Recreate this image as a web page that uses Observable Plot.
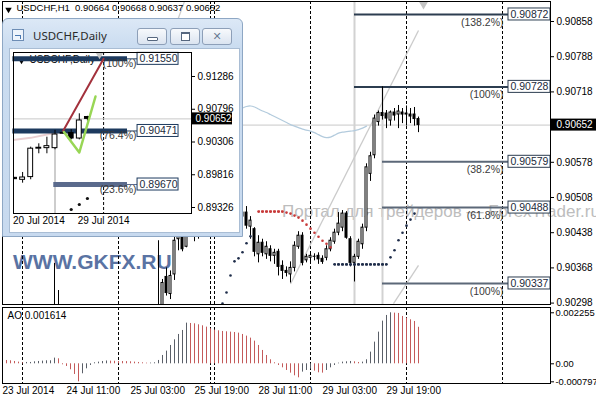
<!DOCTYPE html>
<html><head><meta charset="utf-8">
<script src="https://cdn.jsdelivr.net/npm/d3@7"></script>
<script src="https://cdn.jsdelivr.net/npm/@observablehq/plot@0.6"></script>
<style>
html,body{margin:0;padding:0;background:#fff;}
#wrap{position:relative;width:596px;height:400px;overflow:hidden;background:#fff;font-family:"Liberation Sans",Arial,sans-serif;}
.wm1{position:absolute;left:13px;top:250px;font:bold 21px "Liberation Sans",Arial,sans-serif;color:#5a73a3;white-space:nowrap;z-index:0;line-height:24px;}
.wm2{position:absolute;left:282px;top:202px;font:17px "Liberation Sans",Arial,sans-serif;color:#bdbdbd;white-space:nowrap;z-index:0;line-height:20px;}
#win{position:absolute;left:2px;top:18px;width:241px;height:219px;box-sizing:border-box;border:1px solid #8ea7c4;border-radius:6px 6px 0 0;background:linear-gradient(#dce8f6,#cadcf0 28px,#c8daef);z-index:2;}
#client{position:absolute;left:6px;top:29px;width:231px;height:185px;background:#fff;border:1px solid #a9bdd4;box-sizing:border-box;}
.btn{position:absolute;top:9px;width:30px;height:17px;box-sizing:border-box;border:1px solid #8d9fb8;border-radius:3px;background:linear-gradient(#f7f9fc,#dbe4f0);}
#title{position:absolute;left:30px;top:9px;font:11.5px "Noto Sans","Open Sans",sans-serif;color:#2a2a2a;white-space:nowrap;}
#icon{position:absolute;left:9px;top:10px;width:10px;height:10px;border:1px solid #6d8db5;background:#eef4fb;}
</style></head>
<body><div id="wrap">
<div class="wm1">WWW.GKFX.RU</div>
<div class="wm2">Портал для трейдеров — ForexTrader.ru</div>
<div id="win">
  <div id="icon"><div style="position:absolute;left:2px;top:5px;width:5px;height:3px;border-top:1px solid #4a78b0;border-right:1px solid #4a78b0"></div></div>
  <div id="title">USDCHF,Daily</div>
  <div class="btn" style="left:134px"><div style="position:absolute;left:9px;top:8px;width:9px;height:2px;border:1px solid #56677f;border-radius:1px;background:#fff"></div></div>
  <div class="btn" style="left:167px"><div style="position:absolute;left:10px;top:3px;width:7px;height:6px;border:1px solid #56677f;border-top-width:2px;background:#fff"></div></div>
  <div class="btn" style="left:199px;text-align:center;font:bold 11px 'DejaVu Sans',sans-serif;line-height:15px;color:#6a7b95;text-shadow:0 0 1px #fff">✕</div>
  <div id="client"></div>
</div>
</div>
<script>
// ================= DATA =================
// H1 bars: index 0 = 24 Jul 2014 00:00 (weekend gap removed)
const h1First = -5;
const h1Open = [
0.90215,0.90220,0.90225,0.90218,0.90214,0.90210,0.90216,0.90220,0.90224,0.90236,
0.90242,0.90248,0.90255,0.90268,0.90278,0.90205,0.90185,0.90170,0.90150,0.90145,
0.90172,0.90195,0.90208,0.90218,0.90225,0.90230,0.90238,0.90242,0.90236,0.90230,
0.90222,0.90218,0.90214,0.90210,0.90205,0.90212,0.90225,0.90240,0.90255,0.90272,
0.90288,0.90350,0.90316,0.90355,0.90425,0.90460,0.90410,0.90445,0.90468,0.90440,
0.90462,0.90470,0.90458,0.90462,0.90470,0.90465,0.90455,0.90462,0.90458,0.90466,
0.90470,0.90478,0.90450,0.90445,0.90395,0.90418,0.90395,0.90405,0.90392,0.90400,
0.90372,0.90362,0.90355,0.90368,0.90410,0.90432,0.90383,0.90388,0.90390,0.90392,
0.90386,0.90388,0.90405,0.90420,0.90438,0.90448,0.90476,0.90425,0.90378,0.90390,
0.90415,0.90448,0.90555,0.90592,0.90658,0.90676,0.90675,0.90661,0.90677,0.90673,
0.90677,0.90675,0.90673,0.90673,0.90664];
const h1High = [
0.90228,0.90232,0.90230,0.90226,0.90222,0.90220,0.90225,0.90228,0.90240,0.90248,
0.90255,0.90262,0.90275,0.90377,0.90323,0.90225,0.90200,0.90185,0.90168,0.90180,
0.90200,0.90215,0.90225,0.90232,0.90240,0.90245,0.90250,0.90250,0.90244,0.90238,
0.90232,0.90228,0.90225,0.90222,0.90218,0.90230,0.90245,0.90262,0.90280,0.90422,
0.90345,0.90368,0.90362,0.90445,0.90470,0.90472,0.90458,0.90475,0.90485,0.90470,
0.90480,0.90482,0.90468,0.90478,0.90482,0.90478,0.90470,0.90476,0.90472,0.90480,
0.90485,0.90490,0.90470,0.90448,0.90432,0.90425,0.90420,0.90412,0.90405,0.90405,
0.90382,0.90370,0.90380,0.90420,0.90440,0.90438,0.90395,0.90398,0.90396,0.90398,
0.90392,0.90412,0.90428,0.90445,0.90478,0.90482,0.90480,0.90430,0.90395,0.90425,
0.90455,0.90575,0.90598,0.90672,0.90680,0.90728,0.90681,0.90680,0.90685,0.90691,
0.90685,0.90690,0.90685,0.90687,0.90668];
const h1Low = [
0.90205,0.90210,0.90212,0.90208,0.90205,0.90202,0.90208,0.90212,0.90218,0.90226,
0.90230,0.90238,0.90245,0.90255,0.90190,0.90175,0.90160,0.90140,0.90130,0.90135,
0.90165,0.90185,0.90200,0.90210,0.90215,0.90222,0.90228,0.90230,0.90222,0.90215,
0.90210,0.90205,0.90200,0.90195,0.90190,0.90205,0.90218,0.90232,0.90248,0.90265,
0.90280,0.90312,0.90305,0.90343,0.90402,0.90400,0.90408,0.90432,0.90420,0.90425,
0.90448,0.90450,0.90450,0.90448,0.90455,0.90448,0.90445,0.90450,0.90446,0.90452,
0.90455,0.90445,0.90425,0.90390,0.90378,0.90390,0.90385,0.90380,0.90375,0.90352,
0.90345,0.90350,0.90338,0.90360,0.90405,0.90372,0.90378,0.90378,0.90382,0.90375,
0.90375,0.90382,0.90400,0.90415,0.90432,0.90440,0.90425,0.90370,0.90340,0.90385,
0.90405,0.90440,0.90540,0.90585,0.90650,0.90662,0.90645,0.90650,0.90660,0.90645,
0.90655,0.90650,0.90655,0.90650,0.90637];
const h1Close = [
0.90220,0.90225,0.90218,0.90214,0.90210,0.90216,0.90220,0.90224,0.90236,0.90242,
0.90248,0.90255,0.90268,0.90278,0.90205,0.90185,0.90170,0.90150,0.90145,0.90172,
0.90195,0.90208,0.90218,0.90225,0.90230,0.90238,0.90242,0.90236,0.90230,0.90222,
0.90218,0.90214,0.90210,0.90205,0.90212,0.90225,0.90240,0.90255,0.90272,0.90285,
0.90338,0.90318,0.90352,0.90422,0.90460,0.90405,0.90445,0.90468,0.90440,0.90462,
0.90470,0.90458,0.90462,0.90470,0.90465,0.90455,0.90462,0.90458,0.90466,0.90470,
0.90478,0.90452,0.90462,0.90400,0.90418,0.90398,0.90410,0.90392,0.90398,0.90370,
0.90362,0.90358,0.90368,0.90412,0.90432,0.90378,0.90390,0.90392,0.90390,0.90385,
0.90380,0.90405,0.90422,0.90438,0.90456,0.90476,0.90428,0.90378,0.90390,0.90420,
0.90448,0.90568,0.90590,0.90665,0.90676,0.90670,0.90665,0.90677,0.90671,0.90679,
0.90673,0.90673,0.90669,0.90664,0.90652];
// Awesome Oscillator, same bars
const aoValues = [
0.000152,0.000147,0.000133,0.000103,0.000074,0.000044,0.000059,0.000059,0.000088,0.000103,
0.000118,0.000133,0.000133,0.000251,0.000221,-0.000044,-0.000118,-0.000265,-0.000472,-0.000797,
-0.000442,-0.000221,-0.000074,0.000044,0.000074,0.000103,0.000125,0.000118,0.000112,0.000103,
0.000100,0.000096,0.000088,0.000074,0.000059,0.000044,0.000029,0.000032,0.000044,0.000147,
0.000368,0.000560,0.000811,0.001061,0.001297,0.001474,0.001798,0.001783,0.001769,0.001724,
0.001680,0.001621,0.001548,0.001489,0.001459,0.001430,0.001415,0.001400,0.001385,0.001356,
0.001297,0.001223,0.001135,0.001002,0.000811,0.000590,0.000368,0.000177,0.000044,-0.000074,
-0.000177,-0.000295,-0.000413,-0.000531,-0.000619,-0.000368,-0.000295,-0.000236,-0.000324,-0.000398,
-0.000413,-0.000295,-0.000177,-0.000074,0.000029,0.000074,0.000088,0.000103,0.000088,0.000059,
0.000074,0.000177,0.000516,0.000958,0.001400,0.001887,0.002137,0.002255,0.002240,0.002226,
0.002093,0.002019,0.001946,0.001872,0.001614];
// day separators (bar index) and time-axis labels
const daySepIdx = [0, 24, 47, 48, 72, 96, 120];
const timeTickIdx = [-5, 11, 27, 43, 59, 75, 91];
const timeTickLabels = ["23 Jul 2014","24 Jul 11:00","25 Jul 03:00","25 Jul 19:00","28 Jul 11:00","29 Jul 03:00","29 Jul 19:00"];
const priceTicks = [0.90858,0.90788,0.90718,0.90578,0.90508,0.90438,0.90368,0.90298];
const aoTicks = [0.002255, 0, -0.000797];
// Fibonacci levels on H1
const fibValues = [0.90872, 0.90728, 0.90579, 0.90488, 0.90337];
const fibLabels = ["(138.2%)","(100%)","(38.2%)","(61.8%)","(100%)"];
const fibStartIdx = [83, 83, 90, 90, 90];
const anchorIdx = [83, 90];
const anchorTop = [0.908978, 0.90728];
// trend lines
const trendX1 = [67, 92.75, 38.75];
const trendY1 = [0.90336, 0.90297, 0.90860];
const trendX2 = [99, 99, 40.5];
const trendY2 = [0.90840, 0.90373, 0.90898];
// moving average (light blue)
const maIdx = d3.range(52, 87);
const maVal = [0.90676,0.90680,0.90684,0.90686,0.90689,0.90690,0.90688,0.90684,0.90680,0.90677,
0.90673,0.90669,0.90665,0.90661,0.90657,0.90653,0.90650,0.90647,0.90644,0.90642,
0.90640,0.90637,0.90633,0.90629,0.90627,0.90628,0.90632,0.90636,0.90638,0.90639,
0.90640,0.90641,0.90643,0.90646,0.90650];
// stop dots
const sarIdx1 = d3.range(50, 58);
const sarVal1 = [0.90297,0.90319,0.90353,0.90381,0.90387,0.90399,0.90417,0.90431];
const sarIdx2 = d3.range(59, 78);
const sarVal2 = [0.90480,0.90480,0.90480,0.90480,0.90480,0.90480,0.90480,0.90478,0.90476,0.90472,
0.90468,0.90462,0.90454,0.90446,0.90438,0.90430,0.90422,0.90416,0.90409];
const sarIdx3 = d3.range(78, 99);
const sarVal3 = [0.90375,0.90375,0.90375,0.90375,0.90375,0.90375,0.90375,0.90375,0.90375,0.90375,
0.90375,0.90375,0.90375,0.90375,0.90389,0.90403,0.90423,0.90438,0.90452,0.90464,0.90476];

// Daily inset: k 0 = 20 Jul 2014
const dOpen  = [0.89770,0.89740,0.89781,0.90206,0.90214,0.90214,0.90430,0.90440,0.90358,0.90680];
const dHigh  = [0.89775,0.89850,0.90229,0.90279,0.90378,0.90480,0.90450,0.90490,0.90728,0.90690];
const dLow   = [0.89745,0.89690,0.89741,0.90130,0.90130,0.90190,0.90420,0.90338,0.90338,0.90620];
const dClose = [0.89750,0.89775,0.90206,0.90220,0.90244,0.90418,0.90440,0.90358,0.90628,0.90652];
const dTickIdx = [0, 8];
const dTickLabels = ["20 Jul 2014", "29 Jul 2014"];
const dPriceTicks = [0.91286, 0.90796, 0.90306, 0.89816, 0.89326];
const dFibValues = [0.91550, 0.90471, 0.89670];
const dFibLabels = ["(100%)", "(76.4%)", "(23.6%)"];
const dFibStart = [-0.2, -0.2, 4.85];
const dMonthSep = [11];
const dSarIdx = [7, 8, 9];
const dSarVal = [0.89296, 0.89371, 0.89461];
const dRedK = [6, 11], dRedP = [0.90471, 0.91550];
const dGreenK = [6.1, 8, 10], dGreenP = [0.90455, 0.90149, 0.90987];
const dPinkK = [-0.2, 2, 4, 5.8], dPinkP = [0.90335, 0.90368, 0.90418, 0.90458];

// ================= DRAW =================
const FONT = '"Liberation Sans", Arial, sans-serif';
const wrap = document.getElementById("wrap");
const f5 = d => d.toFixed(5);
function put(node, left, top, z) {
  node.style.position = "absolute"; node.style.left = left + "px"; node.style.top = top + "px";
  node.style.zIndex = z; wrap.appendChild(node);
}
const baseStyle = {background: "transparent", fontFamily: FONT, fontSize: "10px", color: "#000", overflow: "visible"};

// ---- main H1 chart ----
const xDom = [-5, 132];
const yDom = [0.902952, 0.908978];
const mainH = 305;
const pricePx = (mainH - 2) / (yDom[1] - yDom[0]);
const barPx = (596 - 48) / (xDom[1] - xDom[0]);
const boxHalf = 6 / pricePx;
const bars = h1Open.map((o, k) => ({i: h1First + k, o, h: h1High[k], l: h1Low[k], c: h1Close[k]}));
const last = bars[bars.length - 1];
const bid = last.c;
const fibs = fibValues.map((v, n) => ({v, label: fibLabels[n], start: fibStartIdx[n], col: n < 2 ? "#2c3d50" : "#5c6878"}));
const boxL = 121.5, boxR = xDom[1], fibLabelX = 120.25;
const sar = [
  ...sarIdx1.map((i, n) => ({i, v: sarVal1[n], col: "#1f2d4a"})),
  ...sarIdx2.map((i, n) => ({i, v: sarVal2[n], col: "#c83a3a"})),
  ...sarIdx3.map((i, n) => ({i, v: sarVal3[n], col: "#1f2d4a"}))
];
const flats = [];
for (let n = 1; n < sar.length; n++) if (sar[n].v === sar[n-1].v && sar[n].i === sar[n-1].i + 1) flats.push({a: sar[n-1], b: sar[n]});
const header = `USDCHF,H1  ${f5(last.o)} ${f5(last.h)} ${f5(last.l)} ${f5(last.c)}`;

const main = Plot.plot({
  width: 596, height: mainH, marginLeft: 2, marginRight: 46, marginTop: 1, marginBottom: 1,
  style: baseStyle,
  x: {domain: xDom, axis: null},
  y: {domain: yDom, axis: "right", ticks: priceTicks, tickSize: 3, tickPadding: 3, tickFormat: f5, label: null},
  color: {type: "identity"},
  marks: [
    Plot.ruleX(daySepIdx, {stroke: "#000", strokeDasharray: "3,2"}),
    Plot.ruleY([bid], {stroke: "#c8c8c8"}),
    Plot.ruleX(anchorIdx, {x: d => d, y1: (d, k) => anchorTop[k], y2: yDom[0], stroke: "#d2d2d2", strokeWidth: 2}),
    Plot.link(trendX1, {x1: d => d, y1: (d, k) => trendY1[k], x2: (d, k) => trendX2[k], y2: (d, k) => trendY2[k], stroke: "#cbcbcb", strokeWidth: 1.3, clip: true}),
    Plot.line(maIdx, {x: d => d, y: (d, k) => maVal[k], stroke: "#b3cbdd", strokeWidth: 1.2, curve: "catmull-rom"}),
    Plot.ruleY(fibs, {y: "v", x1: "start", x2: boxL, stroke: "col", strokeWidth: 2}),
    Plot.ruleX(bars, {x: "i", y1: "l", y2: "h", stroke: "#000", clip: true}),
    Plot.rect(bars, {x1: d => d.i - 0.25, x2: d => d.i + 0.25, y1: "o", y2: d => d.c === d.o ? d.c + 0.000002 : d.c,
      fill: d => d.c >= d.o ? "#fff" : "#000", stroke: "#000", clip: true}),
    Plot.link(flats, {x1: d => d.a.i, y1: d => d.a.v, x2: d => d.b.i, y2: d => d.b.v, stroke: d => d.a.col, strokeWidth: 2, strokeDasharray: "1.4,1.2", clip: true}),
    Plot.dot(sar, {x: "i", y: "v", r: 1.3, fill: "col", stroke: null, clip: true}),
    Plot.text(fibs, {x: fibLabelX, y: "v", text: "label", textAnchor: "end", dy: 8, fill: "#3a3a3a", fontSize: 10.5}),
    Plot.rect(fibs, {x1: boxL, x2: boxR, y1: d => d.v - boxHalf, y2: d => d.v + boxHalf, fill: "#fff", stroke: "#2c3d50"}),
    Plot.text(fibs, {x: boxL, y: "v", text: d => f5(d.v), textAnchor: "start", dx: 2, fill: "#1c2a3a", fontSize: 10.5}),
    Plot.dot([0], {frameAnchor: "top-left", symbol: "triangle", r: 2.4, rotate: 180, fill: "#000", stroke: null, dx: 6, dy: 8}),
    Plot.text([header], {frameAnchor: "top-left", text: d => d, textAnchor: "start", lineAnchor: "top", dx: 14, dy: 3, fontSize: 9.5}),
    Plot.rect([bid], {x1: xDom[1], x2: xDom[1] + 46 / barPx, y1: d => d - boxHalf, y2: d => d + boxHalf, fill: "#000"}),
    Plot.text([bid], {x: xDom[1], y: d => d, text: f5, textAnchor: "start", dx: 6, fill: "#fff"}),
    Plot.dot([last.i + 1.25], {x: d => d, frameAnchor: "top", symbol: "triangle", r: 3.2, rotate: 180, fill: "#c4c4c4", stroke: null, dy: 3}),
    Plot.frame({stroke: "#000"})
  ]
});
put(main, 0, 0, 1);

// ---- AO panel ----
const aoDom = [-0.000871, 0.002489];
const ao = aoValues.map((v, k) => ({i: h1First + k, v, up: k > 0 && v >= aoValues[k - 1]}));
const aoPanel = Plot.plot({
  width: 596, height: 95, marginLeft: 2, marginRight: 46, marginTop: 2, marginBottom: 17,
  style: {...baseStyle, fontSize: "9.4px"},
  x: {domain: xDom, axis: null},
  y: {domain: aoDom, axis: "right", ticks: aoTicks, tickSize: 3, tickPadding: 2, tickFormat: d => d === 0 ? "0.00" : String(d), label: null},
  color: {type: "identity"},
  marks: [
    Plot.ruleX(daySepIdx, {stroke: "#000", strokeDasharray: "3,2"}),
    Plot.ruleX(ao, {x: "i", y1: 0, y2: "v", stroke: d => d.up ? "#5a5f68" : "#c45a5a"}),
    Plot.text([`AO ${ao[ao.length - 1].v}`], {frameAnchor: "top-left", text: d => d, textAnchor: "start", lineAnchor: "top", dx: 5, dy: 4, fontSize: 10}),
    Plot.text(timeTickIdx, {x: d => d, text: (d, k) => timeTickLabels[k], frameAnchor: "bottom", lineAnchor: "top", textAnchor: "start", dy: 3, fontSize: 10}),
    Plot.frame({stroke: "#000"})
  ]
});
put(aoPanel, 0, 305, 1);

// ---- Daily inset ----
const dXDom = [-0.1235, 21.85];
const dYDom = [0.892363, 0.916451];
const dPricePx = 161 / (dYDom[1] - dYDom[0]);
const dBarPx = 178 / (dXDom[1] - dXDom[0]);
const dBoxHalf = 6 / dPricePx;
const dBars = dOpen.map((o, k) => ({k, o, h: dHigh[k], l: dLow[k], c: dClose[k]}));
const dBid = dClose[dClose.length - 1];
const dFibs = dFibValues.map((v, n) => ({v, label: dFibLabels[n], start: dFibStart[n], col: n < 2 ? "#1d3a5e" : "#5a6a8c"}));
const dThickEnd = 13.95, dBoxL = 15.19, dBoxR = 20.25, dLabelX = 15.06;
const inset = Plot.plot({
  width: 226, height: 180, marginLeft: 1, marginRight: 47, marginTop: 1, marginBottom: 18,
  style: baseStyle,
  x: {domain: dXDom, axis: null},
  y: {domain: dYDom, axis: "right", ticks: dPriceTicks, tickSize: 3, tickPadding: 3, tickFormat: f5, label: null},
  color: {type: "identity"},
  marks: [
    Plot.ruleX(dMonthSep, {stroke: "#000", strokeDasharray: "3,2"}),
    Plot.ruleY([dBid], {stroke: "#c8c8c8"}),
    Plot.ruleX([5], {y1: dFibValues[1], y2: dYDom[0], stroke: "#cdcdcd", strokeWidth: 2}),
    Plot.line(dPinkK, {x: d => d, y: (d, k) => dPinkP[k], stroke: "#e9cfd1", strokeWidth: 2, clip: true}),
    Plot.dot([0], {frameAnchor: "top-left", symbol: "triangle", r: 2.4, rotate: 180, fill: "#000", stroke: null, dx: 8, dy: 8}),
    Plot.text(["USDCHF,Daily"], {frameAnchor: "top-left", text: d => d, textAnchor: "start", lineAnchor: "top", dx: 16, dy: 3, fontSize: 10}),
    Plot.ruleY(dFibs, {y: "v", x1: "start", x2: dThickEnd, stroke: "col", strokeWidth: 5}),
    Plot.ruleY(dFibs, {y: "v", x1: dThickEnd, x2: dBoxL, stroke: "col", strokeWidth: 1}),
    Plot.ruleX(dBars, {x: "k", y1: "l", y2: "h", stroke: "#000", clip: true}),
    Plot.rect(dBars, {x1: d => d.k - 0.3, x2: d => d.k + 0.3, y1: "o", y2: "c", fill: d => d.c >= d.o ? "#fff" : "#000", stroke: "#000", clip: true}),
    Plot.line(dRedK, {x: d => d, y: (d, k) => dRedP[k], stroke: "#a3313c", strokeWidth: 2}),
    Plot.line(dGreenK, {x: d => d, y: (d, k) => dGreenP[k], stroke: "#98d655", strokeWidth: 2.5}),
    Plot.dot(dSarIdx, {x: d => d, y: (d, k) => dSarVal[k], r: 1.6, fill: "#111", stroke: null}),
    Plot.text(dFibs, {x: dLabelX, y: "v", text: "label", textAnchor: "end", dy: 5, fill: "#3a3a3a", fontSize: 10.5}),
    Plot.rect(dFibs, {x1: dBoxL, x2: dBoxR, y1: d => d.v - dBoxHalf, y2: d => d.v + dBoxHalf, fill: "#fff", stroke: "#1d3a5e"}),
    Plot.text(dFibs, {x: dBoxL, y: "v", text: d => f5(d.v), textAnchor: "start", dx: 2, fill: "#1c2a3a", fontSize: 10.5}),
    Plot.text(dTickIdx, {x: d => d, text: (d, k) => dTickLabels[k], frameAnchor: "bottom", lineAnchor: "top", textAnchor: "start", dx: -1.5, dy: 3}),
    Plot.rect([dBid], {x1: dXDom[1], x2: dXDom[1] + 41 / dBarPx, y1: d => d - dBoxHalf, y2: d => d + dBoxHalf, fill: "#000"}),
    Plot.text([dBid], {x: dXDom[1], y: d => d, text: f5, textAnchor: "start", dx: 4, fill: "#fff"}),
    Plot.dot([10.5], {x: d => d, frameAnchor: "top", symbol: "triangle", r: 3, rotate: 180, fill: "#c4c4c4", stroke: null, dy: 2}),
    Plot.frame({stroke: "#000"})
  ]
});
put(inset, 12, 51, 3);
</script>
</body></html>
